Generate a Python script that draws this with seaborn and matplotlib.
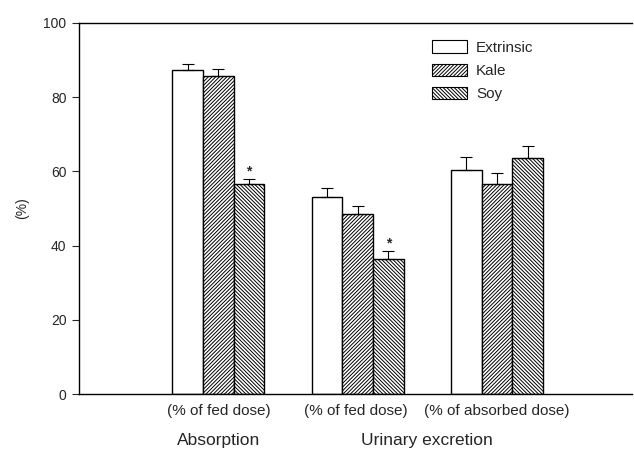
import matplotlib
matplotlib.use("Agg")
import matplotlib.pyplot as plt
from matplotlib.patches import Patch
import pandas as pd
import seaborn as sns

# values (mean, upper SE)
groups = ["(% of fed dose)", "(% of fed dose) ", "(% of absorbed dose)"]
diets = ["Extrinsic", "Kale", "Soy"]
extrinsic = [87.3, 53.2, 60.5]
kale = [85.8, 48.6, 56.5]
soy = [56.6, 36.3, 63.5]
extrinsic_err = [1.6, 2.3, 3.3]
kale_err = [1.7, 2.1, 3.1]
soy_err = [1.4, 2.2, 3.3]
significant = [[False, False, False], [False, False, False], [True, True, False]]
outer_labels = ["Absorption", "Urinary excretion"]
outer_pos = [0, 1.5]

sns.set_style("white")
plt.rcParams["font.family"] = ["Liberation Sans", "DejaVu Sans"]
plt.rcParams["hatch.linewidth"] = 0.7

df = pd.DataFrame({
    "group": groups * 3,
    "diet": [d for d in diets for _ in groups],
    "value": extrinsic + kale + soy,
})
errs = [extrinsic_err, kale_err, soy_err]
hatches = ["", "/" * 9, "\\" * 9]

fig = plt.figure(figsize=(6.34, 4.5), dpi=100)
ax = fig.add_axes([0.1246, 0.1244, 0.8724, 0.8246])

sns.barplot(data=df, x="group", y="value", hue="diet", order=groups,
            hue_order=diets, palette=["white"] * 3, saturation=1,
            edgecolor="black", linewidth=1, width=0.66, gap=0,
            errorbar=None, legend=False, ax=ax)

bar_containers = list(ax.containers)
for i, cont in enumerate(bar_containers):
    xs = []
    for bar in cont:
        bar.set_hatch(hatches[i])
        xs.append(bar.get_x() + bar.get_width() / 2)
    vals = [b.get_height() for b in cont]
    ax.errorbar(xs, vals, yerr=[[0] * len(vals), errs[i]], fmt="none",
                ecolor="black", elinewidth=0.8, capsize=4, capthick=0.8)
    for x, v, e, s in zip(xs, vals, errs[i], significant[i]):
        if s:
            ax.text(x, v + e + 0.1, "*", ha="center", va="bottom",
                    fontsize=10, fontweight="bold")

ax.set_ylim(0, 100)
ax.set_xlim(-1.0, 2.97)
ax.set_yticks(range(0, 101, 20))
ax.set_ylabel("(%)", fontsize=10, labelpad=10)
ax.set_xlabel("")
ax.tick_params(axis="y", direction="out", length=5, width=0.8, labelsize=10, pad=4, left=True)
ax.tick_params(axis="x", length=0, labelsize=11, pad=7)
for side in ["left", "bottom", "top"]:
    ax.spines[side].set_color("black")
    ax.spines[side].set_linewidth(1)
ax.spines["right"].set_visible(False)

for lbl, x in zip(outer_labels, outer_pos):
    ax.text(x, -0.105, lbl, transform=ax.get_xaxis_transform(),
            ha="center", va="top", fontsize=12.5)

handles = [Patch(facecolor="white", edgecolor="black", hatch=h, linewidth=0.8)
           for h in hatches]
ax.legend(handles, diets, loc="upper left", bbox_to_anchor=(0.613, 0.99),
          frameon=False, fontsize=11, handlelength=2.3, handleheight=0.85,
          labelspacing=0.58, handletextpad=0.6)

fig.savefig("out.png", dpi=100)
